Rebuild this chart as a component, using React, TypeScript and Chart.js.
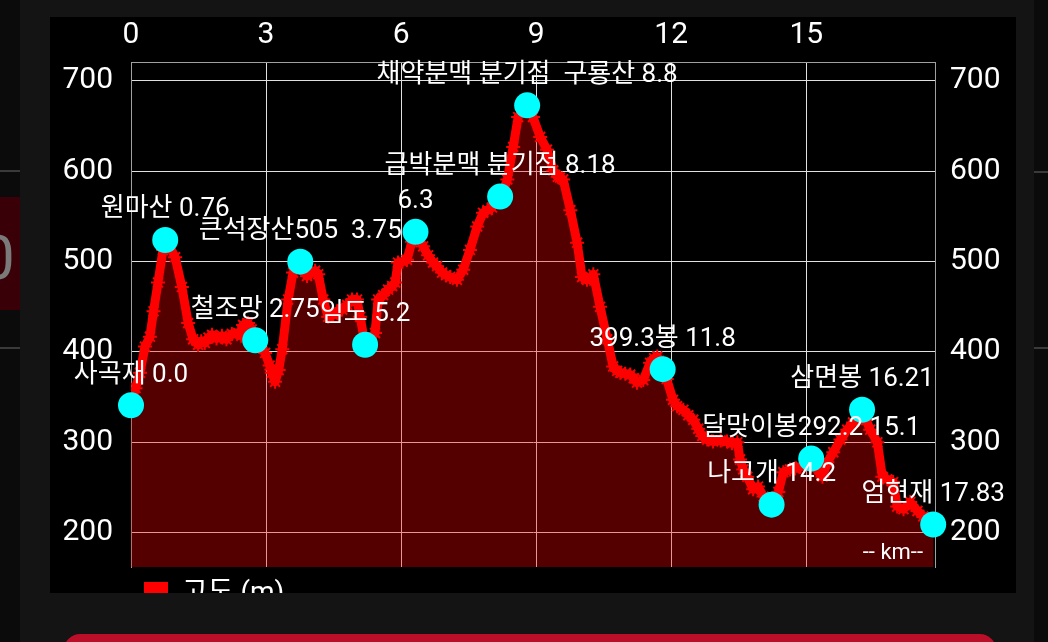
import React, { useEffect, useRef } from 'react';
import { Chart, registerables } from 'chart.js';

Chart.register(...registerables);

// ---- data ----
const distanceKm = [
  0.0, 0.1, 0.2, 0.31, 0.42, 0.5, 0.6, 0.71, 0.76, 0.85, 0.98, 1.13, 1.27, 1.38, 1.49, 1.56, 1.64, 1.72, 1.8, 1.9,
  2.02, 2.12, 2.24, 2.38, 2.45, 2.49, 2.6, 2.68, 2.76, 2.88, 2.98, 3.08, 3.13, 3.2, 3.28, 3.36, 3.49, 3.6, 3.76, 3.84,
  3.91, 4.0, 4.09, 4.16, 4.27, 4.38, 4.49, 4.58, 4.69, 4.8, 4.91, 5.02, 5.09, 5.2, 5.3, 5.42, 5.49, 5.6, 5.71, 5.8,
  5.87, 5.93, 6.03, 6.13, 6.24, 6.31, 6.4, 6.49, 6.6, 6.71, 6.8, 6.91, 7.0, 7.09, 7.24, 7.38, 7.53, 7.69, 7.82, 7.92,
  8.02, 8.1, 8.18, 8.28, 8.36, 8.49, 8.6, 8.7, 8.8, 8.93, 9.09, 9.24, 9.38, 9.48, 9.53, 9.6, 9.76, 9.91, 10.02, 10.13,
  10.2, 10.27, 10.42, 10.58, 10.71, 10.8, 10.87, 10.98, 11.09, 11.17, 11.24, 11.38, 11.53, 11.62, 11.69, 11.8, 11.9, 12.04, 12.13, 12.27,
  12.38, 12.49, 12.6, 12.69, 12.8, 12.93, 13.1, 13.24, 13.35, 13.47, 13.53, 13.6, 13.69, 13.82, 13.93, 14.05, 14.24, 14.38, 14.49, 14.64,
  14.75, 14.87, 15.0, 15.09, 15.2, 15.36, 15.47, 15.6, 15.76, 15.91, 16.04, 16.16, 16.24, 16.33, 16.42, 16.58, 16.69, 16.8, 16.93, 17.02,
  17.16, 17.31, 17.47, 17.6, 17.7, 17.83,
];
const elevationM = [
  341, 360, 377, 406, 417, 445, 477, 513, 524, 518, 505, 472, 432, 414, 408, 412, 410, 416, 419, 415,
  418, 414, 420, 421, 418, 430, 432, 425, 413, 405, 399, 385, 377, 367, 380, 403, 458, 488, 500, 492,
  484, 487, 490, 486, 458, 439, 441, 445, 447, 452, 458, 458, 439, 408, 414, 421, 458, 463, 469, 473,
  477, 499, 500, 502, 522, 533, 526, 517, 507, 499, 495, 488, 485, 483, 480, 491, 513, 539, 554, 557,
  560, 566, 572, 580, 591, 627, 660, 668, 673, 660, 638, 624, 601, 594, 593, 591, 557, 521, 483, 480,
  481, 486, 450, 414, 384, 379, 377, 376, 375, 371, 366, 369, 388, 393, 395, 381, 370, 347, 340, 336,
  330, 325, 315, 307, 303, 301, 302, 301, 299, 300, 281, 270, 262, 248, 251, 240, 231, 245, 267, 270,
  271, 273, 279, 283, 272, 262, 278, 289, 303, 314, 322, 325, 336, 325, 314, 300, 262, 259, 256, 229,
  226, 234, 224, 218, 215, 209,
];

const waypointLabels = [
  '사곡재 0.0', '원마산 0.76', '철조망 2.75', '큰석장산505  3.75', '임도 5.2', '6.3',
  '금박분맥 분기점 8.18', '채약분맥 분기점  구룡산 8.8', '399.3봉 11.8', '나고개 14.2',
  '달맞이봉292.2 15.1', '삼면봉 16.21', '엄현재 17.83',
];
const waypointKm = [0.0, 0.76, 2.76, 3.76, 5.2, 6.32, 8.2, 8.8, 11.81, 14.23, 15.11, 16.24, 17.82];
const waypointElev = [341, 524, 413, 500, 408, 533, 572, 673, 381, 231, 282, 336, 209];

const xMin = 0;
const xMax = 17.86;
const xStep = 3;
const yMin = 162;
const yMax = 721;
const yStep = 100;
const legendText = '고도 (m)';
const unitText = '-- km--';

const FONT = "Roboto, 'Noto Sans CJK KR', sans-serif";

const labelPlugin = {
  id: 'waypointLabels',
  afterDatasetsDraw(chart: any) {
    const ctx = chart.ctx;
    const meta = chart.getDatasetMeta(1);
    ctx.save();
    ctx.font = `26px ${FONT}`;
    ctx.fillStyle = '#ffffff';
    ctx.textAlign = 'center';
    ctx.textBaseline = 'middle';
    meta.data.forEach((pt: any, i: number) => {
      ctx.fillText(waypointLabels[i], pt.x, pt.y - 30);
    });
    ctx.font = `22px ${FONT}`;
    ctx.textAlign = 'right';
    ctx.fillText(unitText, chart.chartArea.right - 12, chart.chartArea.bottom - 14);
    ctx.restore();
  },
};

function ElevationChart() {
  const ref = useRef<HTMLCanvasElement | null>(null);
  useEffect(() => {
    if (!ref.current) return;
    const profile = distanceKm.map((x, i) => ({ x, y: elevationM[i] }));
    const points = waypointKm.map((x, i) => ({ x, y: waypointElev[i] }));
    const tickFont = { family: FONT, size: 30 };
    const chart = new Chart(ref.current, {
      type: 'line',
      data: {
        datasets: [
          {
            label: legendText,
            data: profile,
            order: 2,
            borderColor: '#ff0000',
            borderWidth: 9,
            backgroundColor: 'rgba(255,0,0,0.33)',
            fill: 'start',
            pointStyle: 'star',
            pointRadius: 7,
            pointBorderWidth: 2,
            pointBorderColor: '#ff0000',
            pointBackgroundColor: '#ff0000',
            tension: 0,
            borderJoinStyle: 'round',
          },
          {
            label: 'waypoints',
            data: points,
            order: 1,
            showLine: false,
            pointRadius: 13,
            pointBackgroundColor: '#00ffff',
            pointBorderWidth: 0,
            borderColor: '#00ffff',
            backgroundColor: '#00ffff',
            clip: false as any,
          },
        ],
      },
      options: {
        animation: false,
        responsive: false,
        layout: { padding: 0 },
        scales: {
          x: {
            type: 'linear',
            position: 'top',
            min: xMin,
            max: xMax,
            afterFit: (s: any) => { s.height = 45; },
            ticks: { stepSize: xStep, includeBounds: false, color: '#ffffff', font: tickFont, padding: 9, maxRotation: 0 },
            grid: { color: '#e0e0e0', lineWidth: 1, drawTicks: false },
            border: { color: '#a0a0a0', width: 1 },
          },
          y: {
            type: 'linear',
            position: 'left',
            min: yMin,
            max: yMax,
            afterFit: (s: any) => { s.width = 81; },
            ticks: { stepSize: yStep, includeBounds: false, color: '#ffffff', font: tickFont, padding: 18 },
            grid: { color: '#e0e0e0', lineWidth: 1, drawTicks: false },
            border: { color: '#a0a0a0', width: 1 },
          },
          y2: {
            type: 'linear',
            position: 'right',
            min: yMin,
            max: yMax,
            afterFit: (s: any) => { s.width = 81; },
            ticks: { stepSize: yStep, includeBounds: false, color: '#ffffff', font: tickFont, padding: 15 },
            grid: { display: false, drawTicks: false },
            border: { color: '#a0a0a0', width: 1 },
          },
        },
        plugins: {
          tooltip: { enabled: false },
          legend: {
            display: true,
            position: 'bottom',
            align: 'start',
            fullSize: false,
            labels: {
              color: '#ffffff',
              font: { family: FONT, size: 28 },
              boxWidth: 24,
              boxHeight: 24,
              padding: 13,
              generateLabels: () => [
                {
                  text: legendText,
                  fillStyle: '#ff0000',
                  strokeStyle: '#ff0000',
                  lineWidth: 0,
                  hidden: false,
                  datasetIndex: 0,
                  fontColor: '#ffffff',
                } as any,
              ],
            },
          },
        },
      } as any,
      plugins: [labelPlugin],
    });
    return () => chart.destroy();
  }, []);
  return <canvas ref={ref} width={966} height={601} style={{ width: 966, height: 601, display: 'block' }} />;
}

export default function App() {
  return (
    <div style={{ position: 'fixed', left: 0, top: 0, width: 1048, height: 642, background: '#141414', overflow: 'hidden' }}>
      {/* left neighbour page fragment */}
      <div style={{ position: 'absolute', left: 0, top: 0, width: 20, height: 642, background: '#0b0b0b' }} />
      <div style={{ position: 'absolute', left: 0, top: 170, width: 20, height: 2, background: '#3a3a3a' }} />
      <div style={{ position: 'absolute', left: 0, top: 197, width: 20, height: 113, background: '#3a0008', overflow: 'hidden' }}>
        <span style={{ position: 'absolute', left: -20, top: 30, fontFamily: FONT, fontSize: 62, color: '#7a7a7a', lineHeight: 1 }}>0</span>
      </div>
      <div style={{ position: 'absolute', left: 0, top: 347, width: 20, height: 2, background: '#3a3a3a' }} />
      {/* right neighbour page fragment */}
      <div style={{ position: 'absolute', left: 1034, top: 0, width: 14, height: 642, background: '#0b0b0b' }} />
      <div style={{ position: 'absolute', left: 1034, top: 171, width: 14, height: 2, background: '#3a3a3a' }} />
      <div style={{ position: 'absolute', left: 1034, top: 347, width: 14, height: 2, background: '#3a3a3a' }} />
      {/* chart panel */}
      <div style={{ position: 'absolute', left: 50, top: 17, width: 966, height: 576, background: '#000000', overflow: 'hidden' }}>
        <ElevationChart />
      </div>
      {/* bottom button */}
      <div style={{ position: 'absolute', left: 64, top: 634, width: 932, height: 40, background: '#bb0e28', borderRadius: 16 }} />
    </div>
  );
}
